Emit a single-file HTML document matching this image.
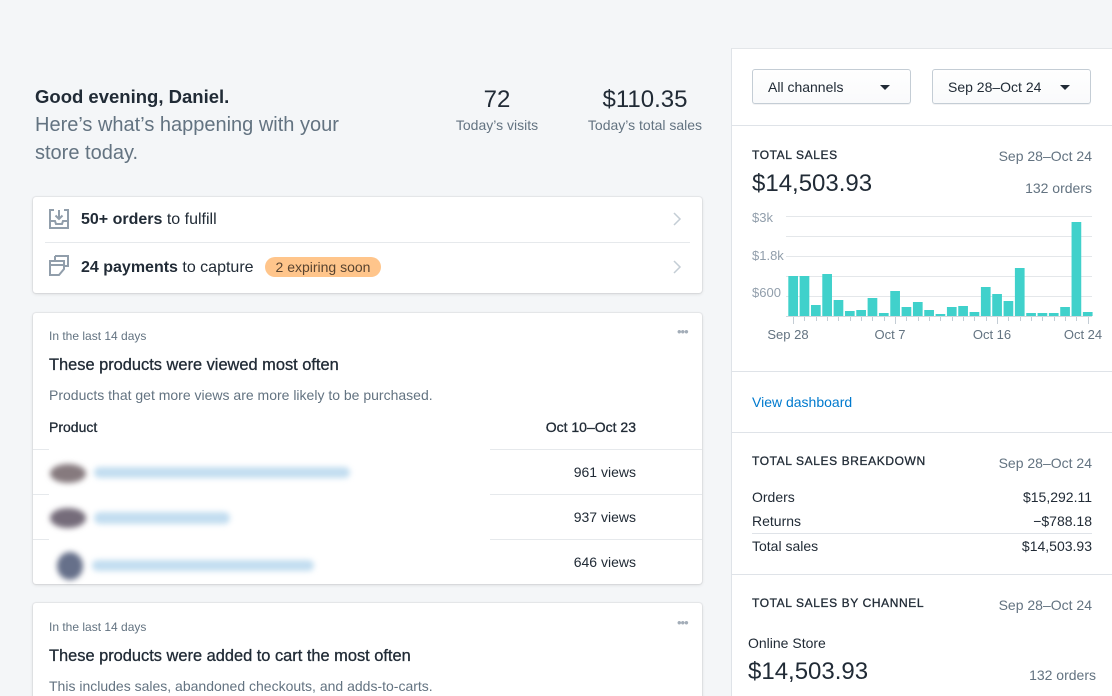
<!DOCTYPE html>
<html><head><meta charset="utf-8">
<style>
*{margin:0;padding:0;box-sizing:border-box}
html,body{width:1112px;height:696px;overflow:hidden;background:#f4f6f8;font-family:"Liberation Sans",Arial,sans-serif;color:#212b36;position:relative}
.a{position:absolute;white-space:nowrap}
.g{color:#637381}
.card{position:absolute;background:#fff;border-radius:3px;box-shadow:0 0 0 1px rgba(63,63,68,.06),0 1px 3px 0 rgba(63,63,68,.16)}
.sb{-webkit-text-stroke:0.3px #212b36}
.hr{position:absolute;height:1px;background:#dfe3e8}
.cap{font-size:12px;letter-spacing:0.6px;-webkit-text-stroke:0.3px #212b36}
.dd{position:absolute;top:69px;width:159px;height:35px;border:1px solid #c4cdd5;border-radius:3px;background:linear-gradient(#fff,#f9fafb);box-shadow:0 1px 0 rgba(22,29,37,.05);font-size:14px;line-height:34px;padding-left:15px}
.dd:after{content:"";position:absolute;right:20px;top:15px;border-left:5px solid transparent;border-right:5px solid transparent;border-top:5px solid #212b36}
.dots{position:absolute;color:#a3adb8;font-size:13px;letter-spacing:-1px}
.bl{position:absolute;filter:blur(3px)}
</style></head><body>

<!-- greeting -->
<div class="a" style="left:35px;top:85px;font-size:18.5px;line-height:24px;font-weight:bold">Good evening, Daniel.</div>
<div class="a g" style="left:35px;top:111px;font-size:20px;line-height:28px;white-space:normal;width:330px">Here’s what’s happening with your<br>store today.</div>

<div class="a" style="left:437px;width:120px;text-align:center;top:85px;font-size:24px;line-height:30px">72</div>
<div class="a g" style="left:437px;width:120px;text-align:center;top:115px;font-size:14px;line-height:20px">Today’s visits</div>
<div class="a" style="left:575px;width:140px;text-align:center;top:85px;font-size:24px;line-height:30px">$110.35</div>
<div class="a g" style="left:575px;width:140px;text-align:center;top:115px;font-size:14px;line-height:20px">Today’s total sales</div>

<!-- card 1 -->
<div class="card" style="left:33px;top:197px;width:669px;height:96px"></div>
<svg class="a" style="left:48px;top:208px" width="22" height="22" viewBox="0 0 22 22" fill="none" stroke="#919eab" stroke-width="2">
<path d="M6 2H2v18h18V2h-4"/><path d="M2 13h5l1 3h6l1-3h5"/><path d="M11 2v9M7.5 7.5L11 11l3.5-3.5"/></svg>
<div class="a" style="left:81px;top:210px;font-size:16px;line-height:20px"><b>50+ orders</b> to fulfill</div>
<svg class="a" style="left:672px;top:212px" width="10" height="14" viewBox="0 0 10 14"><path d="M2 1l6 6-6 6" fill="none" stroke="#c4cdd5" stroke-width="1.5"/></svg>
<div class="hr" style="left:45px;top:242px;width:645px;background:#e6e9ec"></div>
<svg class="a" style="left:48px;top:255px" width="22" height="22" viewBox="0 0 22 22" fill="none" stroke="#919eab" stroke-width="2">
<path d="M7 1h13v10h-3"/><path d="M7 1v4"/><path d="M2 6h14v8l-5 6H2z"/><path d="M2 10h14"/></svg>
<div class="a" style="left:81px;top:258px;font-size:16px;line-height:20px"><b>24 payments</b> to capture</div>
<div class="a" style="left:265px;top:257px;width:116px;height:20px;border-radius:10px;background:#ffc58b;color:#594430;font-size:14px;line-height:20px;text-align:center">2 expiring soon</div>
<svg class="a" style="left:672px;top:260px" width="10" height="14" viewBox="0 0 10 14"><path d="M2 1l6 6-6 6" fill="none" stroke="#c4cdd5" stroke-width="1.5"/></svg>

<!-- card 2 -->
<div class="card" style="left:33px;top:313px;width:669px;height:271px"></div>
<div class="a g" style="left:49px;top:328px;font-size:12px;line-height:16px">In the last 14 days</div>
<div class="dots" style="left:677px;top:324px">•••</div>
<div class="a sb" style="left:49px;top:355px;font-size:16.4px;line-height:20px">These products were viewed most often</div>
<div class="a g" style="left:49px;top:386px;font-size:14px;line-height:18px">Products that get more views are more likely to be purchased.</div>
<div class="a sb" style="left:49px;top:418px;font-size:14px;line-height:18px">Product</div>
<div class="a sb" style="left:500px;width:136px;text-align:right;top:418px;font-size:14px;line-height:18px">Oct 10–Oct 23</div>
<div class="hr" style="left:33px;top:449px;width:669px;background:#e6e9ec"></div>
<div class="hr" style="left:33px;top:494px;width:669px;background:#e6e9ec"></div>
<div class="hr" style="left:33px;top:539px;width:669px;background:#e6e9ec"></div>
<div class="a" style="left:49px;top:444px;width:441px;height:134px;background:#fff"></div>
<div class="bl" style="left:50px;top:464px;width:36px;height:19px;border-radius:50%;background:#867a7e"></div>
<div class="bl" style="left:94px;top:467px;width:256px;height:11px;border-radius:6px;background:#c2ddf0"></div>
<div class="bl" style="left:50px;top:508px;width:36px;height:20px;border-radius:50%;background:#756c7a"></div>
<div class="bl" style="left:94px;top:512px;width:136px;height:12px;border-radius:6px;background:#c2ddf0"></div>
<div class="bl" style="left:57px;top:552px;width:26px;height:28px;border-radius:50%;background:#66708a"></div>
<div class="bl" style="left:92px;top:560px;width:222px;height:11px;border-radius:6px;background:#c2ddf0"></div>
<div class="a" style="left:500px;width:136px;text-align:right;top:463px;font-size:14px;line-height:18px">961 views</div>
<div class="a" style="left:500px;width:136px;text-align:right;top:508px;font-size:14px;line-height:18px">937 views</div>
<div class="a" style="left:500px;width:136px;text-align:right;top:553px;font-size:14px;line-height:18px">646 views</div>

<!-- card 3 -->
<div class="card" style="left:33px;top:603px;width:669px;height:120px"></div>
<div class="a g" style="left:49px;top:619px;font-size:12px;line-height:16px">In the last 14 days</div>
<div class="dots" style="left:677px;top:615px">•••</div>
<div class="a sb" style="left:49px;top:646px;font-size:16.4px;line-height:20px">These products were added to cart the most often</div>
<div class="a g" style="left:49px;top:677px;font-size:14px;line-height:18px">This includes sales, abandoned checkouts, and adds-to-carts.</div>

<!-- right panel -->
<div class="a" style="left:731px;top:48px;width:381px;height:660px;background:#fff;border-left:1px solid #dfe3e8;border-top:1px solid #e3e6e9"></div>
<div class="dd" style="left:752px">All channels</div>
<div class="dd" style="left:932px">Sep 28–Oct 24</div>
<div class="hr" style="left:732px;top:125px;width:380px"></div>

<div class="a cap" style="left:752px;top:147px;line-height:16px">TOTAL SALES</div>
<div class="a g" style="left:950px;width:142px;text-align:right;top:147px;font-size:14px;line-height:18px">Sep 28–Oct 24</div>
<div class="a" style="left:752px;top:169px;font-size:24px;line-height:30px">$14,503.93</div>
<div class="a g" style="left:950px;width:142px;text-align:right;top:179px;font-size:14px;line-height:18px">132 orders</div>

<svg class="a" style="left:740px;top:205px" width="372" height="145" viewBox="740 205 372 145">
<g stroke="#e4e7ea" stroke-width="1">
<line x1="786" x2="1092" y1="216.5" y2="216.5"/>
<line x1="786" x2="1092" y1="236.5" y2="236.5"/>
<line x1="786" x2="1092" y1="256.5" y2="256.5"/>
<line x1="786" x2="1092" y1="276.5" y2="276.5"/>
<line x1="786" x2="1092" y1="296.5" y2="296.5"/>
</g>
<line x1="786" x2="1092" y1="316.5" y2="316.5" stroke="#d3d8dd"/>
<g id="bars" fill="#40d1cb"></g>
<g id="ticks" stroke="#c4cdd5" stroke-width="1"></g>
<g fill="#919eab" font-family="Liberation Sans, Arial, sans-serif" font-size="13">
<text x="752" y="222">$3k</text>
<text x="752" y="260">$1.8k</text>
<text x="752" y="297">$600</text>
</g>
<g fill="#637381" font-family="Liberation Sans, Arial, sans-serif" font-size="13" text-anchor="middle">
<text x="788" y="339">Sep 28</text>
<text x="890" y="339">Oct 7</text>
<text x="992" y="339">Oct 16</text>
<text x="1083" y="339">Oct 24</text>
</g>
</svg>

<div class="hr" style="left:732px;top:371px;width:380px"></div>
<div class="a" style="left:752px;top:393px;font-size:14px;line-height:18px;color:#007ace">View dashboard</div>
<div class="hr" style="left:732px;top:432px;width:380px"></div>

<div class="a cap" style="left:752px;top:453px;line-height:16px">TOTAL SALES BREAKDOWN</div>
<div class="a g" style="left:950px;width:142px;text-align:right;top:454px;font-size:14px;line-height:18px">Sep 28–Oct 24</div>
<div class="a" style="left:752px;top:488px;font-size:14px;line-height:18px">Orders</div>
<div class="a" style="left:950px;width:142px;text-align:right;top:488px;font-size:14px;line-height:18px">$15,292.11</div>
<div class="a" style="left:752px;top:512px;font-size:14px;line-height:18px">Returns</div>
<div class="a" style="left:950px;width:142px;text-align:right;top:512px;font-size:14px;line-height:18px">−$788.18</div>
<div class="hr" style="left:752px;top:533px;width:340px"></div>
<div class="a" style="left:752px;top:537px;font-size:14px;line-height:18px">Total sales</div>
<div class="a" style="left:950px;width:142px;text-align:right;top:537px;font-size:14px;line-height:18px">$14,503.93</div>
<div class="hr" style="left:732px;top:574px;width:380px"></div>

<div class="a cap" style="left:752px;top:595px;line-height:16px">TOTAL SALES BY CHANNEL</div>
<div class="a g" style="left:950px;width:142px;text-align:right;top:596px;font-size:14px;line-height:18px">Sep 28–Oct 24</div>
<div class="a" style="left:748px;top:634px;font-size:14px;line-height:18px">Online Store</div>
<div class="a" style="left:748px;top:657px;font-size:24px;line-height:30px">$14,503.93</div>
<div class="a g" style="left:950px;width:146px;text-align:right;top:666px;font-size:14px;line-height:18px">132 orders</div>

<script>
(function(){
var h=[40,40,11,42,16,5,6,18,3,25,9,14,6,2,9,10,4,29,22,15,48,3,3,3,9,94,4];
var ns="http://www.w3.org/2000/svg";
var b=document.getElementById("bars"),t=document.getElementById("ticks");
for(var i=0;i<h.length;i++){
var x=788.3+i*11.33;
var r=document.createElementNS(ns,"rect");
r.setAttribute("x",x.toFixed(2));r.setAttribute("width","9.7");
r.setAttribute("y",(316-h[i]).toFixed(2));r.setAttribute("height",h[i]);
b.appendChild(r);
var c=Math.round(x+4.85)+0.5;
var l=document.createElementNS(ns,"line");
l.setAttribute("x1",c);l.setAttribute("x2",c);l.setAttribute("y1",317);
var big=(i==0||i==9||i==18||i==26);
l.setAttribute("y2",big?324:321);
t.appendChild(l);
}
})();
</script>
</body></html>
